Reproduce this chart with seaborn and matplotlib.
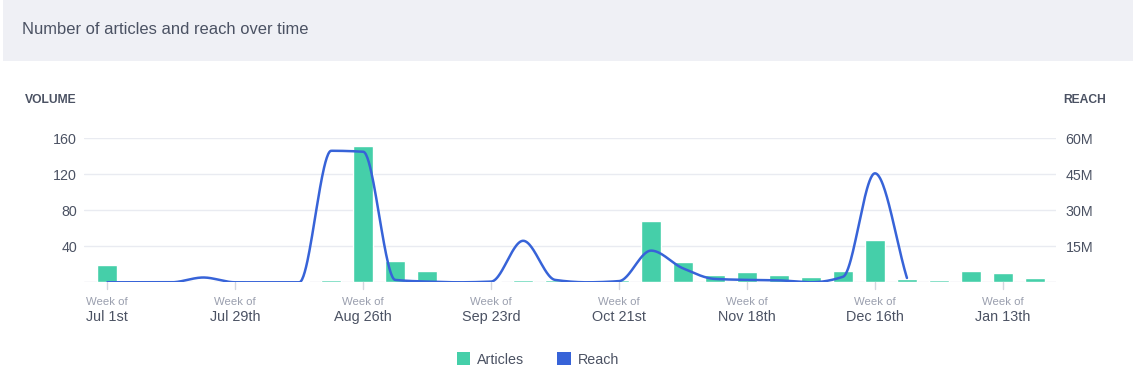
import numpy as np
import pandas as pd
import matplotlib
matplotlib.use("Agg")
import matplotlib.pyplot as plt
from matplotlib.patches import Rectangle, Patch
from matplotlib.transforms import blended_transform_factory
import seaborn as sns

# ---------------- data ----------------
week_index = list(range(30))  # weekly buckets starting Week of Jul 1st
articles = [19, 0, 0, 1.5, 2.5, 0, 1.5, 3, 151, 24, 13, 0, 1.5, 2.5, 2.5, 0, 2.5, 68, 23, 8,
            11, 8, 6, 13, 47, 3.5, 2.5, 13, 10.5, 4.5]
reach_m = [0, 0, 0, 2.0, 0, 0, 0, 54.8, 54.4, 1.0, 0.3, 0, 0.3, 17.3, 1.0, 0, 0.5,
           13.2, 5.8, 1.4, 1.0, 0.8, 0, 2.3, 45.4, 1.8]  # millions
tick_positions = [0, 4, 8, 12, 16, 20, 24, 28]
tick_labels = ["Jul 1st", "Jul 29th", "Aug 26th", "Sep 23rd", "Oct 21st",
               "Nov 18th", "Dec 16th", "Jan 13th"]
left_ticks = [40, 80, 120, 160]
right_ticks = [15, 30, 45, 60]

BAR_C = "#45cfa9"
LINE_C = "#3763d8"
TXT = "#4b5263"
GRAY = "#9a9fae"
GRID = "#e9ebf1"

sns.set_theme(style="white")
plt.rcParams["font.family"] = ["Liberation Sans", "DejaVu Sans"]

fig = plt.figure(figsize=(11.33, 3.70), dpi=100)
fig.patch.set_facecolor("white")
fig.patches.append(Rectangle((3 / 1133, 1 - 61 / 370), 1, 61 / 370,
                             transform=fig.transFigure, facecolor="#eff0f5",
                             edgecolor="none", zorder=0))
fig.text(22 / 1133, 1 - 30 / 370, "Number of articles and reach over time",
         fontsize=11.9, color=TXT, va="center", ha="left")

ax = fig.add_axes([84 / 1133, 87.7 / 370, (1056 - 84) / 1133, 144 / 370])
df = pd.DataFrame({"week": week_index, "articles": articles})
sns.barplot(data=df, x="week", y="articles", ax=ax, color=BAR_C, width=0.62,
            saturation=1, zorder=2)
ax.set_xlim(-0.73, 29.66)
ax.set_ylim(0, 160)
ax.set_yticks(left_ticks)
ax.set_yticklabels([str(t) for t in left_ticks])
ax.tick_params(axis="y", length=0, pad=5, labelsize=10.3, labelcolor=TXT)
ax.set_xticks([])
ax.set_xlabel("")
ax.set_ylabel("")
for s in ax.spines.values():
    s.set_visible(False)
for t in left_ticks:
    ax.axhline(t, color=GRID, lw=1, zorder=0)
ax.axhline(0, color="#dcdfe6", lw=1, zorder=1)

trans = blended_transform_factory(ax.transData, ax.transAxes)
for p, lab in zip(tick_positions, tick_labels):
    ax.plot([p, p], [0, -7 / 144], transform=trans, color="#d3d6de", lw=1,
            clip_on=False)
    ax.text(p, -20 / 144, "Week of", transform=trans, ha="center", va="center",
            fontsize=8.2, color=GRAY)
    ax.text(p, -35 / 144, lab, transform=trans, ha="center", va="center",
            fontsize=10.4, color=TXT)

# ---------------- reach line (monotone cubic rendering) ----------------
def pchip(x, y, xs):
    x = np.asarray(x, float)
    y = np.asarray(y, float)
    h = np.diff(x)
    d = np.diff(y) / h
    m = np.zeros_like(y)
    for k in range(1, len(y) - 1):
        if d[k - 1] * d[k] > 0:
            w1 = 2 * h[k] + h[k - 1]
            w2 = h[k] + 2 * h[k - 1]
            m[k] = (w1 + w2) / (w1 / d[k - 1] + w2 / d[k])
    m[0] = d[0]
    m[-1] = d[-1]
    idx = np.clip(np.searchsorted(x, xs) - 1, 0, len(x) - 2)
    t = (xs - x[idx]) / h[idx]
    h00 = 2 * t**3 - 3 * t**2 + 1
    h10 = t**3 - 2 * t**2 + t
    h01 = -2 * t**3 + 3 * t**2
    h11 = t**3 - t**2
    return (h00 * y[idx] + h10 * h[idx] * m[idx] + h01 * y[idx + 1]
            + h11 * h[idx] * m[idx + 1])

ax2 = ax.twinx()
rx = np.arange(len(reach_m))
xs = np.linspace(0, len(reach_m) - 1, 1200)
ys = pchip(rx, np.array(reach_m) * 1e6, xs)
sns.lineplot(x=xs, y=ys, ax=ax2, color=LINE_C, lw=1.8, sort=False,
             estimator=None, zorder=3)
ax2.set_ylim(0, 60e6)
ax2.set_yticks([t * 1e6 for t in right_ticks])
ax2.set_yticklabels([f"{t}M" for t in right_ticks])
ax2.tick_params(axis="y", length=0, pad=7, labelsize=10.3, labelcolor=TXT)
ax2.set_ylabel("")
ax2.set_xlim(-0.73, 29.66)
for s in ax2.spines.values():
    s.set_visible(False)

fig.text(25 / 1133, 1 - 100 / 370, "VOLUME", fontsize=8.7, fontweight="bold",
         color=TXT, va="center", ha="left")
fig.text(1063 / 1133, 1 - 100 / 370, "REACH", fontsize=8.7, fontweight="bold",
         color=TXT, va="center", ha="left")

handles = [Patch(facecolor=BAR_C, edgecolor="none", label="Articles"),
           Patch(facecolor=LINE_C, edgecolor="none", label="Reach")]
fig.legend(handles=handles, loc="center", bbox_to_anchor=(538 / 1133, 1 - 359.5 / 370),
           ncol=2, frameon=False, fontsize=10.3, handlelength=0.95,
           handleheight=0.95, handletextpad=0.5, columnspacing=2.3,
           labelcolor=TXT)

fig.savefig("out.png", dpi=100)
